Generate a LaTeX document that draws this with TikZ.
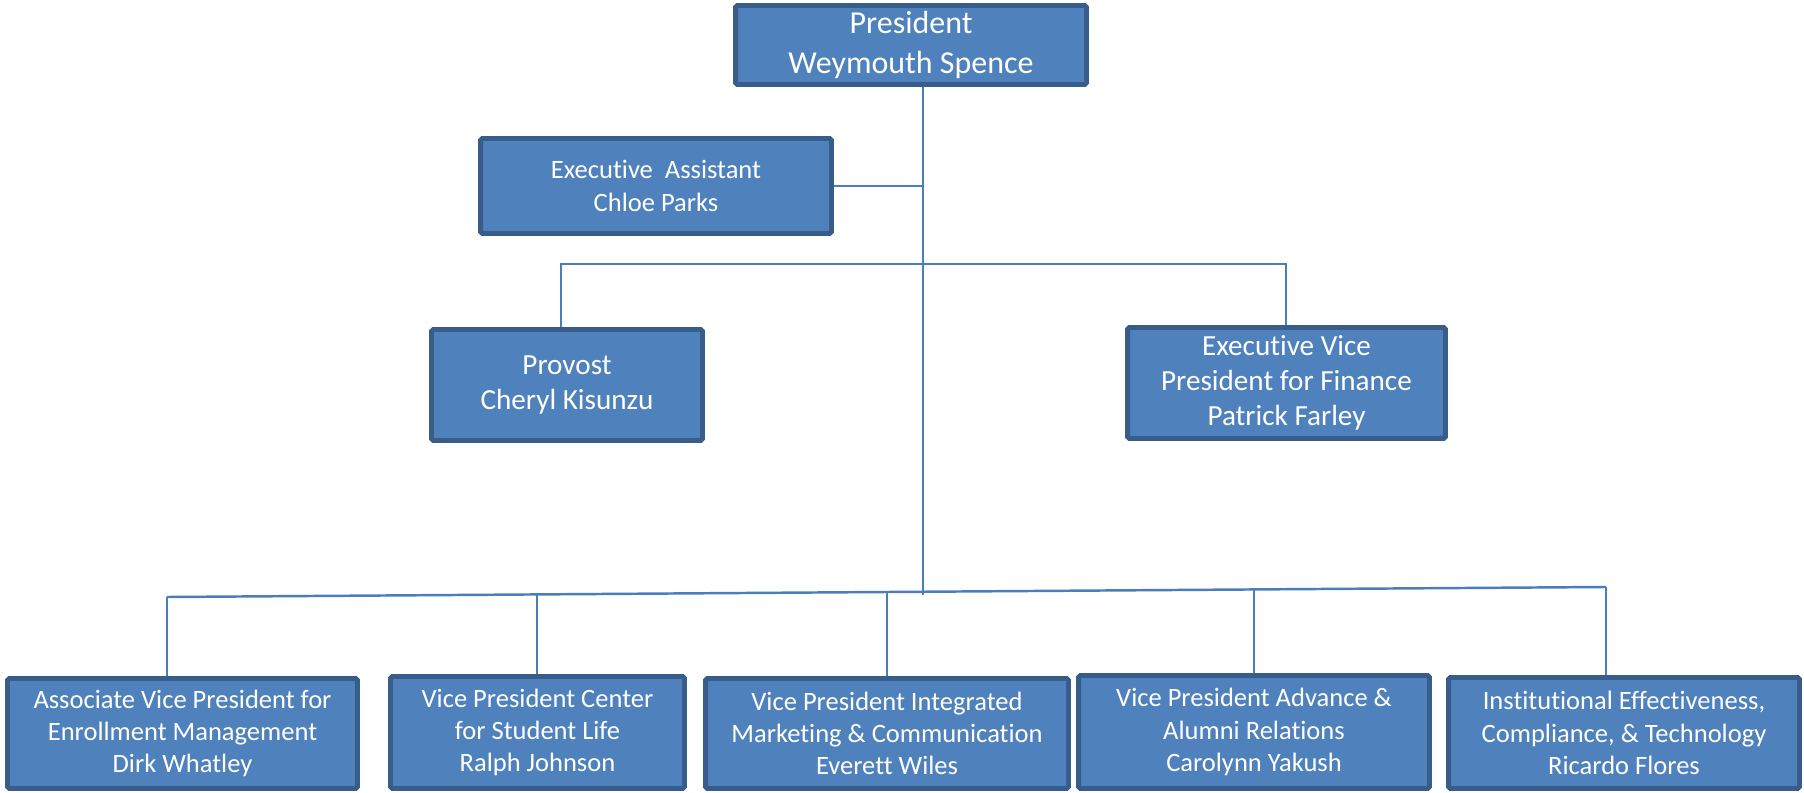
\documentclass[tikz,border=0pt]{standalone}
\usepackage{fontspec}
\setmainfont{Carlito}[Ligatures=NoCommon]
\definecolor{boxfill}{HTML}{4F81BD}
\definecolor{boxline}{HTML}{385D8A}
\definecolor{linkblue}{HTML}{4A7EBB}
\tikzset{onode/.style = {shape = rectangle,
                         draw = boxline,
                         fill = boxfill,
                         text = white,
                         line width = 2.8pt,
                         rounded corners = 1pt,
                         inner sep = 0pt,
                         align = center,
                         font = \fontsize{15.1}{18.3}\selectfont},
         cline/.style = {draw = linkblue,
                         line width = 1.4pt}}

\begin{document}
\begin{tikzpicture}[x=0.02cm, y=-0.02cm]
		\useasboundingbox (0,0) rectangle (1804,793);
		\node[onode, minimum width=7.02cm, minimum height=1.58cm,
		      font=\fontsize{18.2}{22.8}\selectfont] (pres) at (911,45) {President\\Weymouth Spence};
		\node[onode, minimum width=7.02cm, minimum height=1.9cm] (ea) at (656,186) {Executive~ Assistant\\Chloe Parks};
		\node[onode, minimum width=5.42cm, minimum height=2.22cm,
		      font=\fontsize{16.6}{19.9}\selectfont] (prov) at (567,385) {Provost\\Cheryl Kisunzu};
		\node[onode, minimum width=6.36cm, minimum height=2.22cm,
		      font=\fontsize{16.6}{19.9}\selectfont] (evp) at (1286.5,383) {Executive Vice\\President for Finance\\Patrick Farley};
		\node[onode, minimum width=7.0cm, minimum height=2.2cm] (b1) at (182.5,733.5) {Associate Vice President for\\Enrollment Management\\Dirk Whatley};
		\node[onode, minimum width=5.88cm, minimum height=2.24cm] (b2) at (537.5,732.5) {Vice President Center\\for Student Life\\Ralph Johnson};
		\node[onode, minimum width=7.26cm, minimum height=2.2cm] (b3) at (887,733.5) {Vice President Integrated\\Marketing \& Communication\\Everett Wiles};
		\node[onode, minimum width=7.02cm, minimum height=2.26cm] (b4) at (1254,732) {Vice President Advance \&\\Alumni Relations\\Carolynn Yakush};
		\node[onode, minimum width=7.02cm, minimum height=2.22cm] (b5) at (1624,733) {Institutional Effectiveness,\\Compliance, \& Technology\\Ricardo Flores};
		% trunk and bars
		\coordinate (low) at (923,595);
		\coordinate (pl) at (561,264);
		\coordinate (pr) at (1286,264);
		\coordinate (t1) at (167,597);
		\coordinate (t2) at (537,594.5);
		\coordinate (t3) at (887,592);
		\coordinate (t4) at (1254,589.5);
		\coordinate (t5) at (1606,587);
		\path[cline] (pres.south -| low) edge (low);
		\path[cline] (ea.east) edge (ea.east -| low);
		\draw[cline] (prov.north -| pl) -- (pl) -- (pr) -- (evp.north -| pr);
		\path[cline] (t1) edge (t5);
		\path[cline] (t1) edge (b1.north -| t1);
		\path[cline] (t2) edge (b2.north -| t2);
		\path[cline] (t3) edge (b3.north -| t3);
		\path[cline] (t4) edge (b4.north -| t4);
		\path[cline] (t5) edge (b5.north -| t5);
	\end{tikzpicture}
\end{document}
